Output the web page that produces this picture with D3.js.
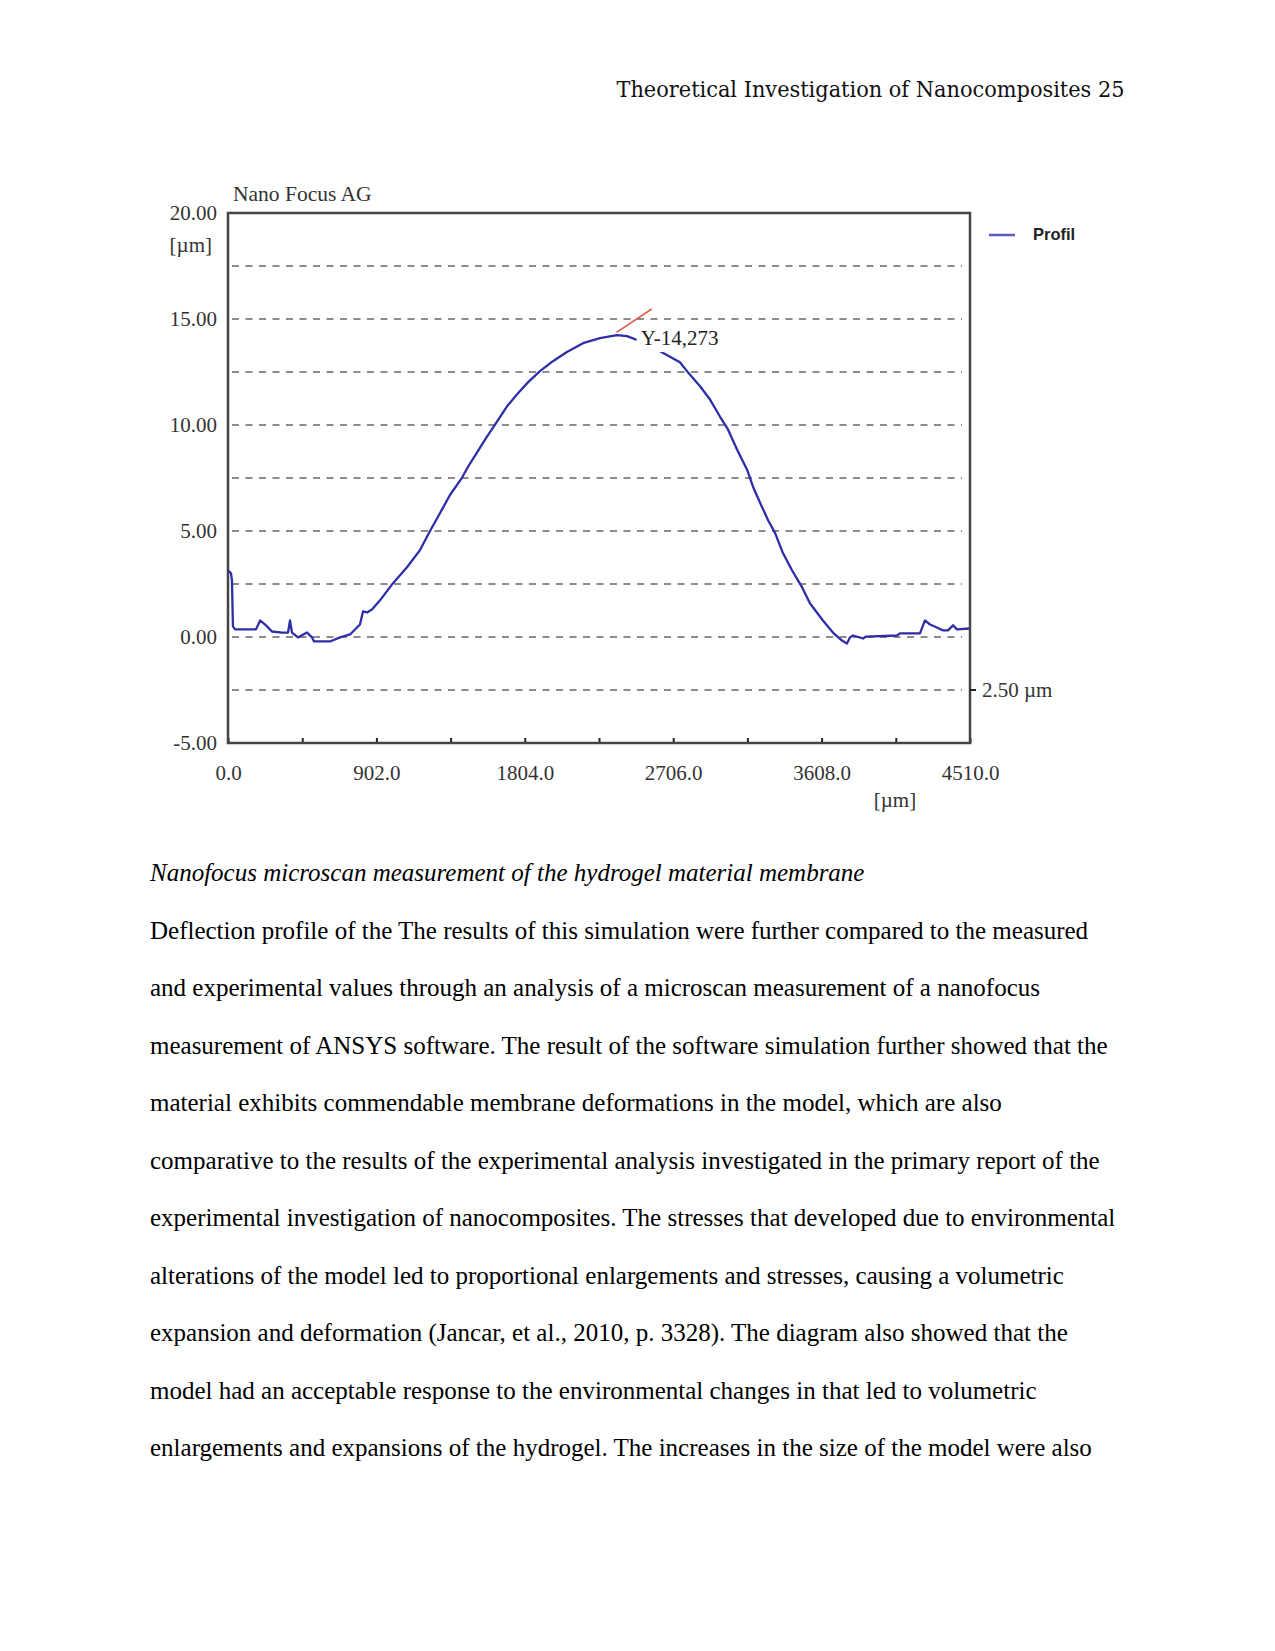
<!DOCTYPE html>
<html>
<head>
<meta charset="utf-8">
<script src="https://cdn.jsdelivr.net/npm/d3@7"></script>
<style>
  body { margin: 0; background: #fff; }
  svg { display: block; }
</style>
</head>
<body>
<div id="page"></div>
<script>
// profile, x in µm, y in µm
const profileX = [0, 18, 24, 30, 43, 170, 195, 231, 267, 328, 365, 377, 389, 425, 480, 511, 523, 620, 681, 742,
  778, 802, 821, 845, 875, 924, 1003, 1088, 1167, 1228, 1289, 1350, 1422, 1459, 1513, 1574, 1623, 1696, 1757, 1823,
  1896, 1975, 2060, 2158, 2261, 2364, 2425, 2504, 2626, 2747, 2790, 2869, 2930, 2990, 3039, 3094, 3155, 3191, 3234,
  3282, 3325, 3373, 3428, 3489, 3537, 3616, 3677, 3732, 3762, 3780, 3799, 3860, 3878, 4066, 4084, 4206, 4236, 4267,
  4309, 4346, 4376, 4407, 4431, 4504];
const profileY = [3.15, 3.01, 2.68, 0.50, 0.36, 0.36, 0.78, 0.55, 0.26, 0.21, 0.21, 0.78, 0.21, -0.02, 0.21, -0.02, -0.21, -0.21, -0.02, 0.12,
  0.40, 0.59, 1.21, 1.16, 1.30, 1.73, 2.54, 3.29, 4.10, 5.00, 5.85, 6.71, 7.51, 8.03, 8.70, 9.45, 10.02, 10.88, 11.45, 12.01,
  12.54, 13.01, 13.44, 13.86, 14.10, 14.24, 14.19, 13.96, 13.48, 12.96, 12.54, 11.83, 11.20, 10.40, 9.79, 8.84, 7.89, 7.09, 6.33,
  5.52, 4.91, 3.96, 3.15, 2.35, 1.59, 0.78, 0.21, -0.17, -0.31, -0.02, 0.07, -0.07, 0.02, 0.07, 0.17, 0.17, 0.78, 0.59,
  0.45, 0.31, 0.31, 0.55, 0.36, 0.40];

// red tangent marker near the peak
const tangentX = [2362, 2575];
const tangentY = [14.37, 15.47];
const peakLabelX = 2745;
const peakLabelY = 14.1;
const peakLabel = "Y-14,273";

const yTickValues = [20, 15, 10, 5, 0, -5];
const yTickLabels = ["20.00", "15.00", "10.00", "5.00", "0.00", "-5.00"];
const gridValues = [17.5, 15, 12.5, 10, 7.5, 5, 2.5, 0, -2.5];
const xTickValues = [0, 451, 902, 1353, 1804, 2255, 2706, 3157, 3608, 4059, 4510];
const xLabelValues = [0, 902, 1804, 2706, 3608, 4510];
const xTickLabels = ["0.0", "902.0", "1804.0", "2706.0", "3608.0", "4510.0"];
const scaleBarValue = -2.5;
const scaleBarLabel = "2.50 µm";

const headerText = "Theoretical Investigation of Nanocomposites 25";
const captionText = "Nanofocus microscan measurement of the hydrogel material membrane";
const bodyLines = [
  "Deflection profile of the The results of this simulation were further compared to the measured",
  "and experimental values through an analysis of a microscan measurement of a nanofocus",
  "measurement of ANSYS software. The result of the software simulation further showed that the",
  "material exhibits commendable membrane deformations in the model, which are also",
  "comparative to the results of the experimental analysis investigated in the primary report of the",
  "experimental investigation of nanocomposites. The stresses that developed due to environmental",
  "alterations of the model led to proportional enlargements and stresses, causing a volumetric",
  "expansion and deformation (Jancar, et al., 2010, p. 3328). The diagram also showed that the",
  "model had an acceptable response to the environmental changes in that led to volumetric",
  "enlargements and expansions of the hydrogel. The increases in the size of the model were also"
];

const W = 1275, H = 1651;
const plot = { left: 228, right: 970, top: 213, bottom: 743 };
const serif = "'Liberation Serif', 'Times New Roman', serif";
const ink = "#333";
const labelSize = 21;

const svg = d3.select("#page").append("svg")
  .attr("width", W)
  .attr("height", H);

svg.append("rect").attr("width", W).attr("height", H).attr("fill", "#fff");

// header
svg.append("text")
  .attr("x", 1124.5)
  .attr("y", 97)
  .attr("text-anchor", "end")
  .attr("font-family", "'DejaVu Serif', serif")
  .attr("font-size", 22)
  .attr("textLength", 508)
  .attr("lengthAdjust", "spacingAndGlyphs")
  .attr("fill", "#111")
  .text(headerText);

//-----------------------------------------------------------------
// chart
const x = d3.scaleLinear().domain([0, 4510]).range([plot.left, plot.right]);
const y = d3.scaleLinear().domain([-5, 20]).range([plot.bottom, plot.top]);

const chart = svg.append("g").attr("font-family", serif);

// dashed grid
chart.append("g")
  .selectAll("line")
  .data(gridValues)
  .join("line")
  .attr("x1", plot.left + 4)
  .attr("x2", plot.right - 8)
  .attr("y1", (d) => y(d))
  .attr("y2", (d) => y(d))
  .attr("stroke", "#8c8c8c")
  .attr("stroke-width", 2.2)
  .attr("stroke-dasharray", "7,6.5");

// x axis: ticks pointing into the plot, labels only every second tick
const xAxis = d3.axisBottom(x)
  .tickValues(xTickValues)
  .tickSize(-5)
  .tickPadding(22)
  .tickFormat((d) => {
    const i = xLabelValues.indexOf(d);
    return i >= 0 ? xTickLabels[i] : "";
  });

const gx = chart.append("g")
  .attr("transform", `translate(0,${plot.bottom})`)
  .call(xAxis);
gx.select(".domain").remove();
gx.selectAll(".tick line").attr("stroke", "#222").attr("stroke-width", 2);
gx.selectAll(".tick text")
  .attr("font-family", serif)
  .attr("font-size", labelSize)
  .attr("fill", ink);

// y axis labels
const yAxis = d3.axisLeft(y)
  .tickValues(yTickValues)
  .tickSize(0)
  .tickPadding(11)
  .tickFormat((d) => yTickLabels[yTickValues.indexOf(d)]);

const gy = chart.append("g")
  .attr("transform", `translate(${plot.left},0)`)
  .call(yAxis);
gy.select(".domain").remove();
gy.selectAll(".tick text")
  .attr("font-family", serif)
  .attr("font-size", labelSize)
  .attr("fill", ink);

// frame
chart.append("rect")
  .attr("x", plot.left)
  .attr("y", plot.top)
  .attr("width", plot.right - plot.left)
  .attr("height", plot.bottom - plot.top)
  .attr("fill", "none")
  .attr("stroke", "#444")
  .attr("stroke-width", 2.5);

// profile curve
const profile = profileX.map((d, i) => ({ x: d, y: profileY[i] }));
const line = d3.line().x((d) => x(d.x)).y((d) => y(d.y));

chart.append("path")
  .datum(profile)
  .attr("d", line)
  .attr("fill", "none")
  .attr("stroke", "#2e2ea8")
  .attr("stroke-width", 2.3)
  .attr("stroke-linejoin", "round");

// tangent marker
chart.append("path")
  .datum(tangentX.map((d, i) => ({ x: d, y: tangentY[i] })))
  .attr("d", line)
  .attr("stroke", "#e05a4a")
  .attr("stroke-width", 1.6);

// peak label, masks the curve behind it
const peak = chart.append("g");
peak.append("rect")
  .attr("x", x(peakLabelX) - 43)
  .attr("y", y(peakLabelY) - 12)
  .attr("width", 86)
  .attr("height", 26)
  .attr("fill", "#fff");
peak.append("text")
  .attr("x", x(peakLabelX))
  .attr("y", y(peakLabelY))
  .attr("dy", "0.33em")
  .attr("text-anchor", "middle")
  .attr("font-size", labelSize)
  .attr("fill", "#222")
  .text(peakLabel);

// scale bar mark on the right edge
chart.append("line")
  .attr("x1", plot.right)
  .attr("x2", plot.right + 6)
  .attr("y1", y(scaleBarValue))
  .attr("y2", y(scaleBarValue))
  .attr("stroke", "#222")
  .attr("stroke-width", 2);
chart.append("text")
  .attr("x", plot.right + 12)
  .attr("y", y(scaleBarValue))
  .attr("dy", "0.33em")
  .attr("font-size", labelSize)
  .attr("fill", ink)
  .text(scaleBarLabel);

// titles and units
chart.append("text")
  .attr("x", 233)
  .attr("y", 194)
  .attr("dy", "0.33em")
  .attr("font-size", 21.5)
  .attr("fill", ink)
  .text("Nano Focus AG");

chart.append("text")
  .attr("x", 212)
  .attr("y", 245)
  .attr("dy", "0.33em")
  .attr("text-anchor", "end")
  .attr("font-size", labelSize)
  .attr("fill", ink)
  .text("[µm]");

chart.append("text")
  .attr("x", 895)
  .attr("y", 800)
  .attr("dy", "0.33em")
  .attr("text-anchor", "middle")
  .attr("font-size", labelSize)
  .attr("fill", ink)
  .text("[µm]");

// legend
chart.append("line")
  .attr("x1", 989)
  .attr("x2", 1015)
  .attr("y1", 235)
  .attr("y2", 235)
  .attr("stroke", "#5a5abf")
  .attr("stroke-width", 2.5);
chart.append("text")
  .attr("x", 1033)
  .attr("y", 234)
  .attr("dy", "0.35em")
  .attr("font-family", "'Liberation Sans', Arial, sans-serif")
  .attr("font-weight", "bold")
  .attr("font-size", 16.5)
  .attr("fill", "#222")
  .text("Profil");

//-----------------------------------------------------------------
// caption and body text
const body = svg.append("g")
  .attr("font-family", serif)
  .attr("font-size", 25)
  .attr("fill", "#000");

body.append("text")
  .attr("x", 150)
  .attr("y", 881)
  .attr("font-style", "italic")
  .text(captionText);

body.selectAll(".body-line")
  .data(bodyLines)
  .join("text")
  .attr("class", "body-line")
  .attr("x", 150)
  .attr("y", (d, i) => 938.5 + i * 57.5)
  .text((d) => d);
</script>
</body>
</html>
